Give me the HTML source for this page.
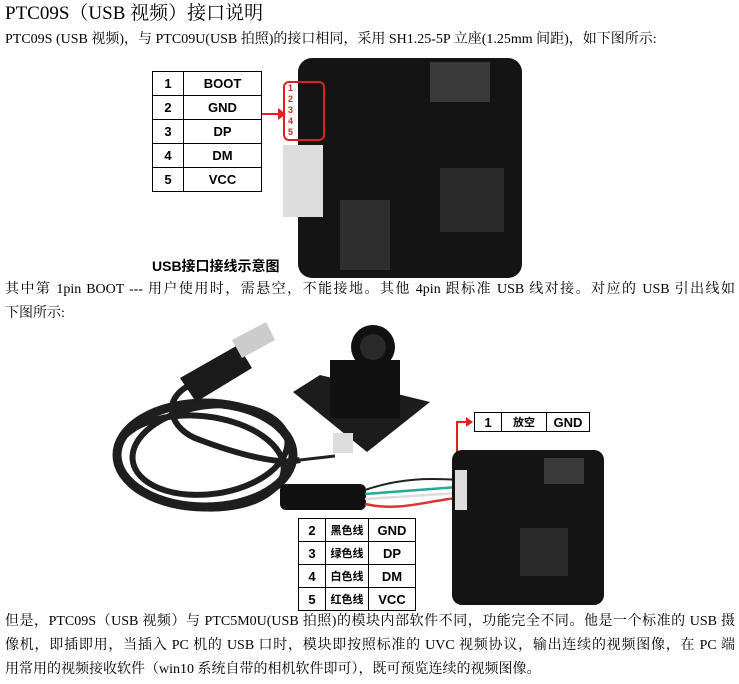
<!DOCTYPE html>
<html><head><meta charset="utf-8"><style>
body{margin:0;width:739px;height:684px;background:#fff;position:relative;overflow:hidden;font-family:"Liberation Serif","Noto Serif CJK SC",serif;color:#000}
.l{position:absolute;left:5px;white-space:nowrap;font-size:14px;line-height:20px}
.j{width:730px;text-align:justify;text-align-last:justify}
table{position:absolute;border-collapse:collapse;font-family:"Liberation Sans","Noto Sans CJK SC",sans-serif;font-weight:bold}
td{border:1.5px solid #000;text-align:center;padding:0}
.a{position:absolute}
</style></head><body>
<div class="l" style="top:2px;font-size:19px;line-height:24px">PTC09S（USB 视频）接口说明</div>
<div class="l" style="top:30px">PTC09S (USB 视频)，与 PTC09U(USB 拍照)的接口相同，采用 SH1.25-5P 立座(1.25mm 间距)，如下图所示:</div>

<table style="left:152px;top:71px;width:110px;font-size:13px">
<tr style="height:24px"><td style="width:30px">1</td><td>BOOT</td></tr>
<tr style="height:24px"><td>2</td><td>GND</td></tr>
<tr style="height:24px"><td>3</td><td>DP</td></tr>
<tr style="height:24px"><td>4</td><td>DM</td></tr>
<tr style="height:24px"><td>5</td><td>VCC</td></tr>
</table>
<div class="a" style="left:262px;top:113px;width:20px;height:2px;background:#e02020"></div>
<div class="a" style="left:278px;top:108px;border-left:8px solid #e02020;border-top:6px solid transparent;border-bottom:6px solid transparent"></div>
<!-- board 1 -->
<div class="a" style="left:298px;top:58px;width:224px;height:220px;background:#141414;border-radius:14px"></div>
<div class="a" style="left:283px;top:145px;width:40px;height:72px;background:#ddd"></div>
<div class="a" style="left:440px;top:168px;width:64px;height:64px;background:#2a2a2a"></div>
<div class="a" style="left:430px;top:62px;width:60px;height:40px;background:#3a3a3a"></div>
<div class="a" style="left:340px;top:200px;width:50px;height:70px;background:#2e2e2e"></div>
<div class="a" style="left:283px;top:81px;width:42px;height:60px;border:2px solid #e02020;border-radius:6px;color:#e02020;font:bold 9px 'Liberation Sans';line-height:11px;padding-left:3px;box-sizing:border-box">1<br>2<br>3<br>4<br>5</div>
<div class="a" style="left:152px;top:256px;font:bold 14px 'Liberation Sans','Noto Sans CJK SC',sans-serif">USB接口接线示意图</div>

<div class="l j" style="top:280px">其中第 1pin BOOT --- 用户使用时，需悬空，不能接地。其他 4pin 跟标准 USB 线对接。对应的 USB 引出线如</div>
<div class="l" style="top:304px">下图所示:</div>

<!-- cable photo approx -->
<svg class="a" style="left:0;top:0" width="739" height="684">
<g fill="none" stroke="#1e1e1e">
<ellipse cx="205" cy="455" rx="88" ry="52" stroke-width="9"/>
<ellipse cx="210" cy="450" rx="78" ry="44" stroke-width="6" transform="rotate(-8 210 450)"/>
<ellipse cx="200" cy="462" rx="84" ry="46" stroke-width="6" transform="rotate(6 200 462)"/>
<path d="M190 385 C160 400 170 430 200 440 C240 455 280 465 300 460" stroke-width="6"/>
</g>
<polygon points="180,378 238,345 252,368 196,402" fill="#1a1a1a"/>
<polygon points="232,340 266,322 275,340 242,358" fill="#ccc"/>
<!-- camera module -->
<polygon points="293,392 320,375 430,402 367,452" fill="#1c1c1c"/>
<rect x="330" y="360" width="70" height="58" fill="#111"/>
<circle cx="373" cy="347" r="22" fill="#111"/>
<circle cx="373" cy="347" r="13" fill="#2a2a2a"/>
<rect x="333" y="433" width="20" height="20" fill="#ddd"/>
<path d="M300 460 L335 456" stroke="#222" stroke-width="3"/>
<rect x="280" y="484" width="86" height="26" rx="6" fill="#111"/>
<path d="M365 490 C400 478 430 478 458 480" stroke="#222" stroke-width="2" fill="none"/>
<path d="M365 494 L458 487" stroke="#2a9" stroke-width="2.5"/>
<path d="M365 499 L458 493" stroke="#ddd" stroke-width="2.5"/>
<path d="M365 504 C400 512 430 500 458 498" stroke="#d33" stroke-width="2.5" fill="none"/>
</svg>

<table style="left:474px;top:412px;width:116px;height:20px;font-size:13px">
<tr><td style="width:26px">1</td><td style="width:44px;font-size:11px">放空</td><td>GND</td></tr>
</table>
<div class="a" style="left:456px;top:421px;width:2px;height:57px;background:#e02020"></div>
<div class="a" style="left:456px;top:421px;width:12px;height:2px;background:#e02020"></div>
<div class="a" style="left:466px;top:417px;border-left:7px solid #e02020;border-top:5px solid transparent;border-bottom:5px solid transparent"></div>
<!-- board 2 -->
<div class="a" style="left:452px;top:450px;width:152px;height:155px;background:#141414;border-radius:10px"></div>
<div class="a" style="left:455px;top:470px;width:12px;height:40px;background:#ddd"></div>
<div class="a" style="left:520px;top:528px;width:48px;height:48px;background:#2a2a2a"></div>
<div class="a" style="left:544px;top:458px;width:40px;height:26px;background:#3a3a3a"></div>

<table style="left:298px;top:518px;width:118px;font-size:13px;background:#fff">
<tr style="height:23px"><td style="width:26px">2</td><td style="width:42px;font-size:11px">黑色线</td><td>GND</td></tr>
<tr style="height:23px"><td>3</td><td style="font-size:11px">绿色线</td><td>DP</td></tr>
<tr style="height:23px"><td>4</td><td style="font-size:11px">白色线</td><td>DM</td></tr>
<tr style="height:23px"><td>5</td><td style="font-size:11px">红色线</td><td>VCC</td></tr>
</table>

<div class="l j" style="top:612px">但是，PTC09S（USB 视频）与 PTC5M0U(USB 拍照)的模块内部软件不同，功能完全不同。他是一个标准的 USB 摄</div>
<div class="l j" style="top:636px">像机，即插即用，当插入 PC 机的 USB 口时，模块即按照标准的 UVC 视频协议，输出连续的视频图像，在 PC 端</div>
<div class="l" style="top:660px">用常用的视频接收软件（win10 系统自带的相机软件即可），既可预览连续的视频图像。</div>
</body></html>
